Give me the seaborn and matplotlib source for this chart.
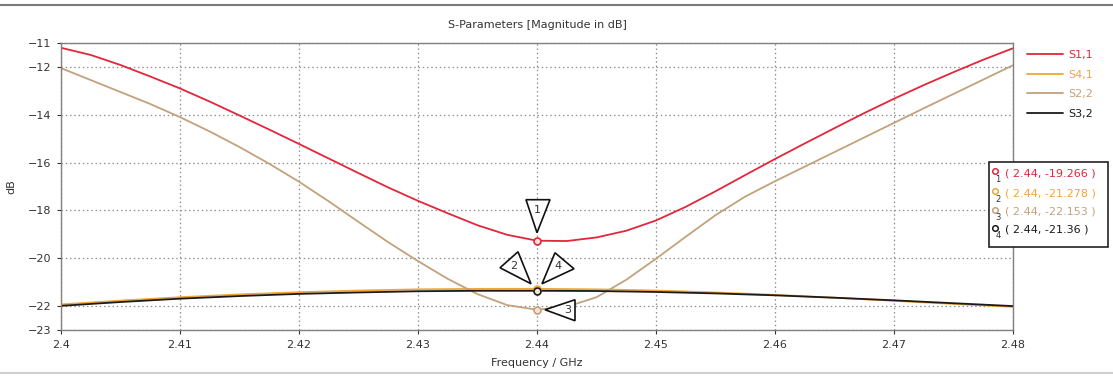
import numpy as np
import pandas as pd
import matplotlib.pyplot as plt
import matplotlib.transforms as mtransforms
from matplotlib.patches import Polygon, Rectangle
from matplotlib.lines import Line2D
import seaborn as sns

# --- data --- #
freq_fine = [2.4000, 2.4025, 2.4050, 2.4075, 2.4100, 2.4125, 2.4150, 2.4175,
             2.4200, 2.4225, 2.4250, 2.4275, 2.4300, 2.4325, 2.4350, 2.4375,
             2.4400, 2.4425, 2.4450, 2.4475, 2.4500, 2.4525, 2.4550, 2.4575,
             2.4600, 2.4625, 2.4650, 2.4675, 2.4700, 2.4725, 2.4750, 2.4775,
             2.4800]
s11 = [-11.20, -11.50, -11.92, -12.40, -12.90, -13.45, -14.03, -14.62,
       -15.22, -15.83, -16.44, -17.04, -17.60, -18.12, -18.62, -19.02,
       -19.266, -19.28, -19.13, -18.85, -18.42, -17.85, -17.20, -16.52,
       -15.85, -15.20, -14.56, -13.93, -13.33, -12.76, -12.22, -11.70,
       -11.22]
s22 = [-12.05, -12.55, -13.05, -13.55, -14.10, -14.70, -15.35, -16.05,
       -16.80, -17.62, -18.48, -19.33, -20.12, -20.86, -21.50, -21.96,
       -22.153, -22.03, -21.63, -20.90, -20.02, -19.10, -18.20, -17.42,
       -16.78, -16.17, -15.56, -14.95, -14.34, -13.73, -13.13, -12.53,
       -11.93]

freq_coarse = [2.400, 2.405, 2.410, 2.415, 2.420, 2.425, 2.430, 2.435, 2.440,
               2.445, 2.450, 2.455, 2.460, 2.465, 2.470, 2.475, 2.480]
s41 = [-21.93, -21.77, -21.63, -21.51, -21.42, -21.35, -21.30, -21.28, -21.278,
       -21.30, -21.35, -21.43, -21.53, -21.65, -21.78, -21.91, -22.03]
s32 = [-21.99, -21.83, -21.69, -21.58, -21.49, -21.43, -21.38, -21.36, -21.36,
       -21.37, -21.41, -21.47, -21.55, -21.65, -21.76, -21.88, -22.00]

marker_freq = 2.44
marker_vals = [-19.266, -21.278, -22.153, -21.36]
marker_names = ["1", "2", "3", "4"]

names = ["S1,1", "S4,1", "S2,2", "S3,2"]
colors = ["#e3263a", "#f0a63a", "#c2a27c", "#1a1a1a"]
marker_colors = ["#e3263a", "#f0a63a", "#c2a27c", "#1a1a1a"]

xticks = [2.4, 2.41, 2.42, 2.43, 2.44, 2.45, 2.46, 2.47, 2.48]
yticks = [-11, -12, -14, -16, -18, -20, -22, -23]

df = pd.concat([
    pd.DataFrame({"freq": freq_fine, "dB": s11, "trace": "S1,1"}),
    pd.DataFrame({"freq": freq_coarse, "dB": s41, "trace": "S4,1"}),
    pd.DataFrame({"freq": freq_fine, "dB": s22, "trace": "S2,2"}),
    pd.DataFrame({"freq": freq_coarse, "dB": s32, "trace": "S3,2"}),
])

sns.set_style("white")
plt.rcParams['font.family'] = ['DejaVu Sans']

fig = plt.figure(figsize=(11.13, 3.76), dpi=100)
ax = fig.add_axes([61 / 1113, 1 - 330 / 376, (1013 - 61) / 1113, (330 - 43) / 376])

sns.lineplot(data=df, x="freq", y="dB", hue="trace", hue_order=names,
             palette=dict(zip(names, colors)), linewidth=1.3, ax=ax,
             estimator=None, sort=False)

ax.set_xlim(2.4, 2.48)
ax.set_ylim(-23, -11)
ax.set_xticks(xticks)
ax.set_xticklabels([f"{t:g}" for t in xticks])
ax.set_yticks(yticks)
ax.tick_params(axis="both", labelsize=8, colors="#333333", length=3, width=0.8,
               direction="out", left=True, bottom=True, pad=4)
ax.grid(True, linestyle=(0, (1.2, 2.2)), color="#8f8f8f", linewidth=0.9)
for sp in ax.spines.values():
    sp.set_color("#808080")
    sp.set_linewidth(1.0)

ax.set_title("S-Parameters [Magnitude in dB]", fontsize=8, color="#333333", pad=11)
ax.set_xlabel("Frequency / GHz", fontsize=8, color="#333333", labelpad=6)
ax.set_ylabel("dB", fontsize=8, color="#333333", labelpad=8)

# legend outside right
leg = ax.legend(loc="upper left", bbox_to_anchor=(1.01, 0.99), frameon=False,
                fontsize=8, handlelength=3.2, handletextpad=0.5,
                labelspacing=0.85, borderaxespad=0)
for txt, c in zip(leg.get_texts(), colors):
    txt.set_color(c)

# markers on curves
for v, c in zip(marker_vals, marker_colors):
    ax.plot(marker_freq, v, marker="o", markersize=5, markerfacecolor="#f6e3d8",
            markeredgecolor=c, markeredgewidth=1.2, zorder=5)

# marker flags (pixel offsets from the marked point)
flags = {
    "1": ([(-11, 41), (13, 41), (0, 8)], (0, 31), -19.266),
    "2": ([(-37, 23), (-19, 39), (-6, 7)], (-23, 25), -21.36),
    "4": ([(18, 38), (37, 22), (5, 7)], (21, 25), -21.36),
    "3": ([(8, 0), (38, 10), (38, -11)], (31, 0), -22.153),
}
for name in marker_names:
    verts, lab, v = flags[name]
    tr = mtransforms.Affine2D() + mtransforms.ScaledTranslation(marker_freq, v, ax.transData)
    ax.add_patch(Polygon(verts, closed=True, facecolor="white", edgecolor="#111111",
                         linewidth=1.2, transform=tr, zorder=6, clip_on=False))
    ax.text(lab[0], lab[1], name, transform=tr, ha="center", va="center",
            fontsize=8, color="#333333", zorder=7)

# marker value box
fig.add_artist(Rectangle((989 / 1113, 1 - 247 / 376), 119 / 1113, 85 / 376,
                         transform=fig.transFigure, facecolor="white",
                         edgecolor="#222222", linewidth=1.2, zorder=8))
rows_y = [173, 193, 212, 230]
for name, v, c, yy in zip(marker_names, marker_vals, marker_colors, rows_y):
    fy = 1 - yy / 376
    fig.add_artist(Line2D([995 / 1113], [fy + 2 / 376], marker="o", markersize=4,
                          markerfacecolor="none", markeredgecolor=c,
                          markeredgewidth=1.1, transform=fig.transFigure, zorder=9))
    fig.text(998 / 1113, fy - 6 / 376, name, fontsize=6, color="#333333",
             ha="center", va="center", zorder=9)
    fig.text(1005 / 1113, fy, f"( {marker_freq:g}, {v:g} )", fontsize=8, color=c,
             ha="left", va="center", zorder=9)

# frame lines of the window
fig.add_artist(Line2D([0, 1], [1 - 5 / 376, 1 - 5 / 376], color="#7a7a7a",
                      linewidth=1.5, transform=fig.transFigure))
fig.add_artist(Line2D([0, 1], [1 - 373 / 376, 1 - 373 / 376], color="#d0d0d0",
                      linewidth=1.5, transform=fig.transFigure))

fig.savefig("out.png", dpi=100)
